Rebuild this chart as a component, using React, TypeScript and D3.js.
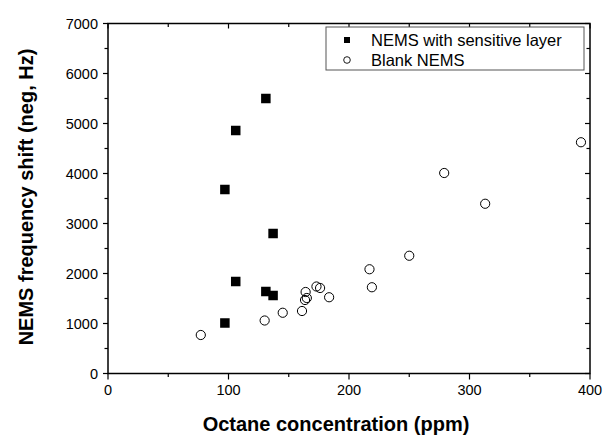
import React from "react";
import * as d3 from "d3";

const sensX = [97, 97, 106, 106, 131, 131, 137, 137];
const sensY = [1010, 3680, 4860, 1840, 5500, 1640, 2800, 1560];

const blankX = [77, 130, 145, 161, 164, 165, 163.5, 173, 176, 183.5, 217, 219, 250, 279, 313, 392.5];
const blankY = [770, 1060, 1215, 1250, 1630, 1510, 1470, 1740, 1710, 1525, 2085, 1725, 2355, 4010, 3395, 4625];

const xTicks = [0, 100, 200, 300, 400];
const xMinor = [50, 150, 250, 350];
const yTicks = [0, 1000, 2000, 3000, 4000, 5000, 6000, 7000];
const yMinor = [500, 1500, 2500, 3500, 4500, 5500, 6500];

const seriesNames = ["NEMS with sensitive layer", "Blank NEMS"];
const xTitle = "Octane concentration (ppm)";
const yTitle = "NEMS frequency shift (neg, Hz)";

export default function App() {
  const W = 607, H = 437;
  const L = 108, R = 590, T = 23.5, B = 373.5;
  const x = d3.scaleLinear().domain([0, 400]).range([L, R]);
  const y = d3.scaleLinear().domain([0, 7000]).range([B, T]);
  const font = "'Liberation Sans', Arial, sans-serif";
  const sq = 9.5;
  return (
    <svg width={W} height={H} style={{ position: "absolute", left: 0, top: 0, background: "#fff" }} fontFamily={font}>
      <rect x={0} y={0} width={W} height={H} fill="#fff" />
      {/* frame */}
      <rect x={L} y={T} width={R - L} height={B - T} fill="none" stroke="#000" strokeWidth={1.5} />
      {/* x ticks */}
      {xTicks.map((t) => (
        <g key={"xt" + t}>
          <line x1={x(t)} x2={x(t)} y1={B} y2={B + 6} stroke="#000" strokeWidth={1.2} />
          <line x1={x(t)} x2={x(t)} y1={T} y2={T + 5} stroke="#000" strokeWidth={1.2} />
          <text x={x(t)} y={395} textAnchor="middle" fontSize={14.5}>{t}</text>
        </g>
      ))}
      {xMinor.map((t) => (
        <g key={"xm" + t}>
          <line x1={x(t)} x2={x(t)} y1={B} y2={B + 3.5} stroke="#000" strokeWidth={1.2} />
          <line x1={x(t)} x2={x(t)} y1={T} y2={T + 3.5} stroke="#000" strokeWidth={1.2} />
        </g>
      ))}
      {yTicks.map((t) => (
        <g key={"yt" + t}>
          <line x1={L - 5} x2={L} y1={y(t)} y2={y(t)} stroke="#000" strokeWidth={1.2} />
          <line x1={R - 5} x2={R} y1={y(t)} y2={y(t)} stroke="#000" strokeWidth={1.2} />
          <text x={98} y={y(t) + 5} textAnchor="end" fontSize={14.5}>{t}</text>
        </g>
      ))}
      {yMinor.map((t) => (
        <g key={"ym" + t}>
          <line x1={L - 3.5} x2={L} y1={y(t)} y2={y(t)} stroke="#000" strokeWidth={1.2} />
          <line x1={R - 3.5} x2={R} y1={y(t)} y2={y(t)} stroke="#000" strokeWidth={1.2} />
        </g>
      ))}
      {/* data */}
      {sensX.map((v, i) => (
        <rect key={"s" + i} x={x(v) - sq / 2} y={y(sensY[i]) - sq / 2} width={sq} height={sq} fill="#000" />
      ))}
      {blankX.map((v, i) => (
        <circle key={"b" + i} cx={x(v)} cy={y(blankY[i])} r={4.6} fill="none" stroke="#000" strokeWidth={1} />
      ))}
      {/* legend */}
      <rect x={326} y={27} width={258} height={43} fill="#fff" stroke="#555" strokeWidth={1} />
      <rect x={344} y={37} width={6} height={6} fill="#000" />
      <circle cx={347} cy={60} r={3.3} fill="none" stroke="#000" strokeWidth={0.9} />
      <text x={371} y={45.5} fontSize={16.5}>{seriesNames[0]}</text>
      <text x={371} y={65.5} fontSize={16.5}>{seriesNames[1]}</text>
      {/* titles */}
      <text x={336} y={431} textAnchor="middle" fontSize={20} fontWeight="bold">{xTitle}</text>
      <text transform={`translate(33,197) rotate(-90)`} textAnchor="middle" fontSize={20} fontWeight="bold">{yTitle}</text>
    </svg>
  );
}
